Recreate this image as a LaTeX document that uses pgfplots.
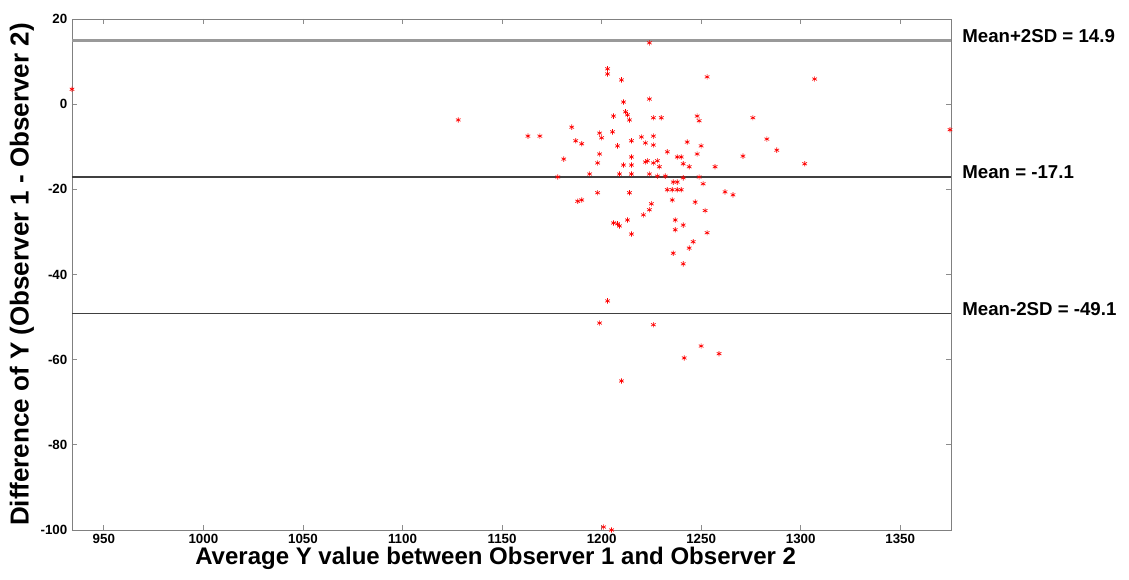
\documentclass[border=0pt]{standalone}
\usepackage{pgfplots}
\pgfplotsset{compat=1.18}
\usepackage{fontspec}
\setmainfont{Liberation Sans}
\pgfplotstableread{
x y
934 3.5
1128 -3.7
1375 -6
1163 -7.5
1169 -7.5
1224 14.4
1203 8.3
1203 7.1
1210 5.7
1211 0.5
1224 1.2
1212 -1.8
1213 -2.5
1214 -3.7
1206 -2.8
1226 -3.2
1230 -3.2
1185 -5.4
1205.5 -6.5
1199 -6.8
1200 -7.9
1187 -8.6
1190 -9.3
1208 -9.8
1215 -8.6
1220 -7.7
1222 -9.1
1226 -7.5
1226 -9.6
1233 -11.2
1238 -12.4
1199 -11.7
1198 -13.8
1181 -12.9
1215 -12.4
1211 -14.3
1215 -14.3
1222 -13.6
1223 -13.3
1226 -13.8
1228 -13.3
1229 -14.7
1194 -16.4
1178 -17.1
1209 -16.4
1215 -16.4
1224 -16.4
1228 -16.9
1232 -16.9
1236 -18.3
1238 -18.3
1233 -20.1
1235.5 -20.1
1238 -20.1
1190 -22.5
1188 -22.8
1198 -20.8
1214 -20.8
1225 -23.4
1224 -24.8
1221 -26
1213 -27.2
1206 -27.9
1208 -28.1
1209 -28.6
1215 -30.5
1235.5 -22.5
1237 -27.2
1237 -29.5
1236 -35
1203 -46.2
1199 -51.4
1226 -51.8
1247 -23
1252 -25
1241 -28.4
1253 -30.2
1246 -32.3
1244 -33.8
1241 -37.5
1250 -56.8
1241.5 -59.6
1259 -58.6
1253 6.4
1307 5.9
1248 -2.8
1249 -3.9
1276 -3.2
1283 -8.2
1288 -10.8
1271 -12.2
1302 -14
1257 -14.7
1243 -8.9
1250 -9.8
1248 -11.7
1240 -12.4
1241 -14
1244 -14.7
1249 -17.1
1241 -17.3
1251 -18.7
1240 -20.1
1262 -20.6
1266 -21.3
1210 -65
1201 -99.3
1205 -100
}\pts
\begin{document}
\begin{tikzpicture}
\path[use as bounding box] (-54pt,-36.75pt) rectangle (792.75pt,397.5pt);
\begin{axis}[
  at={(0,0)}, anchor=south west,
  scale only axis,
  width=659.25pt, height=383.25pt,
  xmin=934, xmax=1375.5, ymin=-100, ymax=20,
  xtick={950,1000,...,1350}, ytick={-100,-80,...,20},
  tick align=inside, major tick length=4pt,
  tick style={black!45, line width=0.6pt},
  axis line style={black!50, line width=0.7pt},
  /pgf/number format/assume math mode=true,
  /pgf/number format/1000 sep={},
  ticklabel style={font=\fontsize{10}{12}\selectfont\bfseries},
  xticklabel style={yshift=0.5pt},
  xlabel={Average Y value between Observer 1 and Observer 2},
  ylabel={Difference of Y (Observer 1 - Observer 2)},
  xlabel style={font=\fontsize{18}{20}\selectfont\bfseries, at={(axis description cs:0.482,-0.0555)}, anchor=center},
  ylabel style={font=\fontsize{19.5}{21}\selectfont\bfseries, at={(axis description cs:-0.0569,0.5)}, anchor=center},
  clip mode=individual,
]
\addplot[draw=black!40, line width=2pt] coordinates {(934,14.9) (1375.5,14.9)};
\addplot[draw=black!75, line width=1pt] coordinates {(934,-17.1) (1375.5,-17.1)};
\addplot[draw=black!75, line width=1pt] coordinates {(934,-49.1) (1375.5,-49.1)};
\addplot[only marks, mark=asterisk, mark size=2pt, color=red, mark options={line width=0.5pt}] table[x=x,y=y] {\pts};
\node[anchor=west, font=\fontsize{14}{16}\selectfont\bfseries, xshift=5pt, yshift=3.5pt] at (axis cs:1375.5,14.9) {Mean+2SD = 14.9};
\node[anchor=west, font=\fontsize{14}{16}\selectfont\bfseries, xshift=5pt, yshift=3.5pt] at (axis cs:1375.5,-17.1) {Mean = -17.1};
\node[anchor=west, font=\fontsize{14}{16}\selectfont\bfseries, xshift=5pt, yshift=3.5pt] at (axis cs:1375.5,-49.1) {Mean-2SD = -49.1};
\end{axis}
\end{tikzpicture}
\end{document}
